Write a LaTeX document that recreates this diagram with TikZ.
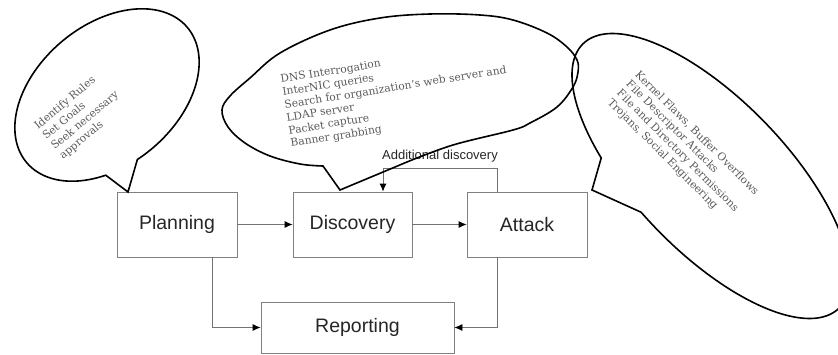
\documentclass[tikz,border=0pt]{standalone}
\usepackage{fontspec}
\setmainfont{Liberation Sans}
\newfontfamily\dejaserif{DejaVu Serif}
\usetikzlibrary{arrows.meta}
\tikzset{
  stagebox/.style={draw=black!50, line width=0.8pt, inner sep=0pt, text=black!85,
    font=\fontsize{19.5}{22}\selectfont},
  conn/.style={draw=black!55, line width=0.8pt, -{Latex[length=8pt,width=7pt,color=black]}},
  bubble/.style={draw=black, line width=1.6pt, line join=miter},
  ctext/.style={font=\dejaserif\fontsize{10.7}{13}\selectfont, text=black!65, align=left, inner sep=0pt},
  lab/.style={font=\fontsize{13}{15}\selectfont, text=black!85, inner sep=0pt}
}
\begin{document}
\begin{tikzpicture}[x=1pt,y=1pt]
\useasboundingbox (0,0) rectangle (838,354);
% stages
\node[stagebox, minimum width=120pt, minimum height=65pt] (plan) at (177,129.5) {Planning};
\node[stagebox, minimum width=119pt, minimum height=65pt] (disc) at (352.5,129.5) {Discovery};
\node[stagebox, minimum width=120pt, minimum height=65pt] (att) at (527,129.5) {Attack};
\node[stagebox, minimum width=193pt, minimum height=51pt] (rep) at (357.5,26.5) {Reporting};
% connectors
\draw[conn] (plan) -- (disc);
\draw[conn] (disc) -- (att);
\draw[conn] ([xshift=-25pt]plan.south east) |- (rep.west);
\draw[conn] ([xshift=-30pt]att.south) |- (rep.east);
\draw[conn] ([xshift=-30pt]att.north) -- ++(0,23) -| ([xshift=30.5pt]disc.north);
\node[lab, anchor=base west] (addl) at (382,194) {Additional discovery};
% callout tips
\coordinate (tipL) at (128,162);
\coordinate (tipD) at (340,164);
\coordinate (tipA) at (592,164);
% callouts
\draw[bubble] plot[domain=-100:240, samples=160, variable=\t]
  ({107+105*cos(\t)*cos(40)-70*sin(\t)*sin(40)},{259+105*cos(\t)*sin(40)+70*sin(\t)*cos(40)})
  -- (tipL) -- cycle;
\draw[bubble] plot[smooth, tension=0.6] coordinates {(407,192) (453,209) (513,224) (530,231) (557,247) (573,267) (578,282) (577,294) (567,307) (547,321) (513,334) (480,339) (430,340) (380,336) (330,324) (280,301) (250,276) (230,258) (222,244) (228,227) (245,211) (270,198) (300,190) (323,188)}
  -- (tipD) -- cycle;
\draw[bubble] plot[domain=-97:241, samples=200, variable=\t]
  ({711+184*cos(\t)*cos(-46)-76*sin(\t)*sin(-46)},{178+184*cos(\t)*sin(-46)+76*sin(\t)*cos(-46)})
  -- (tipA) -- cycle;
% callout texts (anchor = baseline of the last line)
\node[ctext, rotate=40, anchor=base west] (tL) at (63,194) {Identify Rules\\Set Goals\\Seek necessary\\approvals};
\node[ctext, rotate=9, anchor=base west] (tD) at (291,207) {DNS Interrogation\\InterNIC queries\\Search for organization’s web server and\\LDAP server\\Packet capture\\Banner grabbing};
\node[ctext, rotate=-45, anchor=base west] (tA) at (607,251) {Kernel Flaws, Buffer Overflows\\File Descriptor Attacks\\File and Directory Permissions\\Trojans, Social Engineering};
\end{tikzpicture}
\end{document}
